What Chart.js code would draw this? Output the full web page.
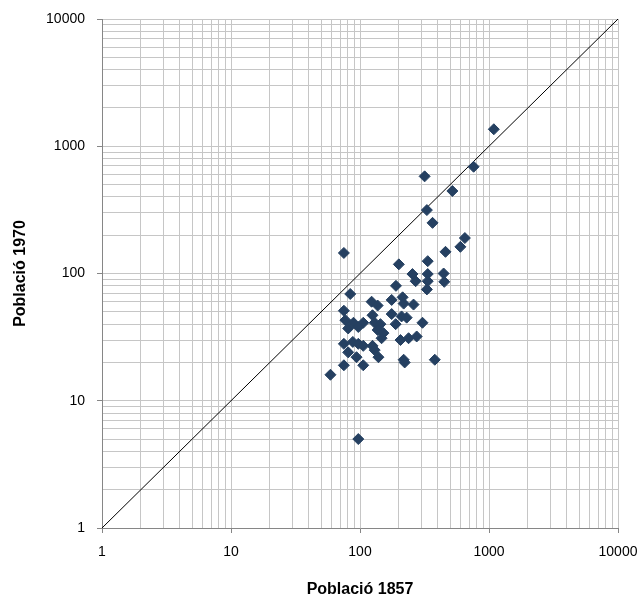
<!DOCTYPE html>
<html>
<head>
<meta charset="utf-8">
<script src="https://cdn.jsdelivr.net/npm/chart.js@4"></script>
<style>
  html, body { margin: 0; padding: 0; background: #fff; }
  #wrap { width: 640px; height: 598px; }
</style>
</head>
<body>
<div id="wrap"><canvas id="scatterChart" width="640" height="598"></canvas></div>
<script>
// Població 1857 (x) vs Població 1970 (y)
const pob1857 = [
  1090, 760, 317, 520, 330, 365, 650, 600, 75, 460,
  335, 200, 255, 335, 445, 270, 335, 450, 190, 330,
  84, 123, 137, 176, 214, 218, 260, 75, 125, 176,
  210, 230, 77, 89, 106, 130, 144, 189, 305, 81,
  97, 137, 152, 147, 206, 238, 275, 75, 88, 97,
  106, 125, 130, 81, 94, 139, 218, 222, 380, 75,
  106, 59, 97,
];
const pob1970 = [
  1360, 690, 580, 445, 315, 250, 190, 162, 145, 148,
  125, 118, 99, 99, 100, 87, 87, 86, 80, 75,
  69, 60, 56, 62, 65, 58, 57, 51, 47, 48,
  46, 45, 43, 41, 41, 41, 40, 40, 41, 37,
  38, 36, 34, 31, 30, 31, 32, 28, 29, 28,
  27, 27, 25, 24, 22, 22, 21, 20, 21, 19,
  19, 16, 5,
];

// axis ticks: decades get a label, 2..9 only a grid line
const decades = [1, 10, 100, 1000, 10000];
const minorSteps = [2, 3, 4, 5, 6, 7, 8, 9];
const refLine = [1, 10000]; // y = x

const gridValues = [];
decades.forEach(function (d, i) {
  gridValues.push(d);
  if (i < decades.length - 1) {
    minorSteps.forEach(function (m) { gridValues.push(d * m); });
  }
});

const isDecade = function (v) { return decades.indexOf(v) !== -1; };

const points = pob1857.map(function (x, i) {
  return { x: x, y: pob1970[i] };
});

const axisGrey = '#868686';
const gridGrey = '#c6c6c6';
const markColor = '#254061';

function logAxis(title, isX) {
  return {
    type: 'logarithmic',
    min: decades[0],
    max: decades[decades.length - 1],
    afterBuildTicks: function (scale) {
      scale.ticks = gridValues.map(function (v) { return { value: v }; });
    },
    afterFit: function (scale) {
      // fixed plot box, labels may hang over the layout padding
      if (isX) scale.height = 70;
      else scale.width = 102;
      scale.paddingLeft = 0;
      scale.paddingRight = 0;
      scale.paddingTop = 0;
      scale.paddingBottom = 0;
    },
    ticks: {
      autoSkip: false,
      maxRotation: 0,
      padding: isX ? 11 : 12,
      color: '#000',
      font: { family: 'Liberation Sans', size: 14 },
      callback: function (value) {
        return isDecade(value) ? String(value) : '';
      },
    },
    grid: {
      color: gridGrey,
      lineWidth: 1,
      tickLength: 5,
      tickColor: function (ctx) {
        return ctx.tick && isDecade(ctx.tick.value) ? axisGrey : 'rgba(0,0,0,0)';
      },
    },
    border: { color: axisGrey, width: 1 },
    title: {
      display: true,
      text: title,
      color: '#000',
      font: { family: 'Liberation Sans', size: 16, weight: 'bold', lineHeight: 1 },
      padding: isX ? { top: 0, bottom: 0 } : { top: 13, bottom: 0 },
    },
  };
}

const scatterConfig = {
  type: 'scatter',
  data: {
    datasets: [
      {
        label: 'Municipis',
        data: points,
        pointStyle: 'rectRot',
        pointRadius: 5.5,
        pointBorderWidth: 1,
        backgroundColor: markColor,
        borderColor: markColor,
        order: 1,
      },
      {
        label: 'y = x',
        data: refLine.map(function (v) { return { x: v, y: v }; }),
        showLine: true,
        pointRadius: 0,
        borderColor: '#000',
        borderWidth: 1,
        order: 2,
      },
    ],
  },
  options: {
    responsive: false,
    animation: false,
    layout: { padding: { left: 0, right: 22, top: 19, bottom: 0 } },
    plugins: {
      legend: { display: false },
      tooltip: { enabled: false },
    },
    scales: {
      x: logAxis('Població 1857', true),
      y: logAxis('Població 1970', false),
    },
  },
};

const scatterChart = new Chart(
  document.getElementById('scatterChart'),
  scatterConfig
);
</script>
</body>
</html>
